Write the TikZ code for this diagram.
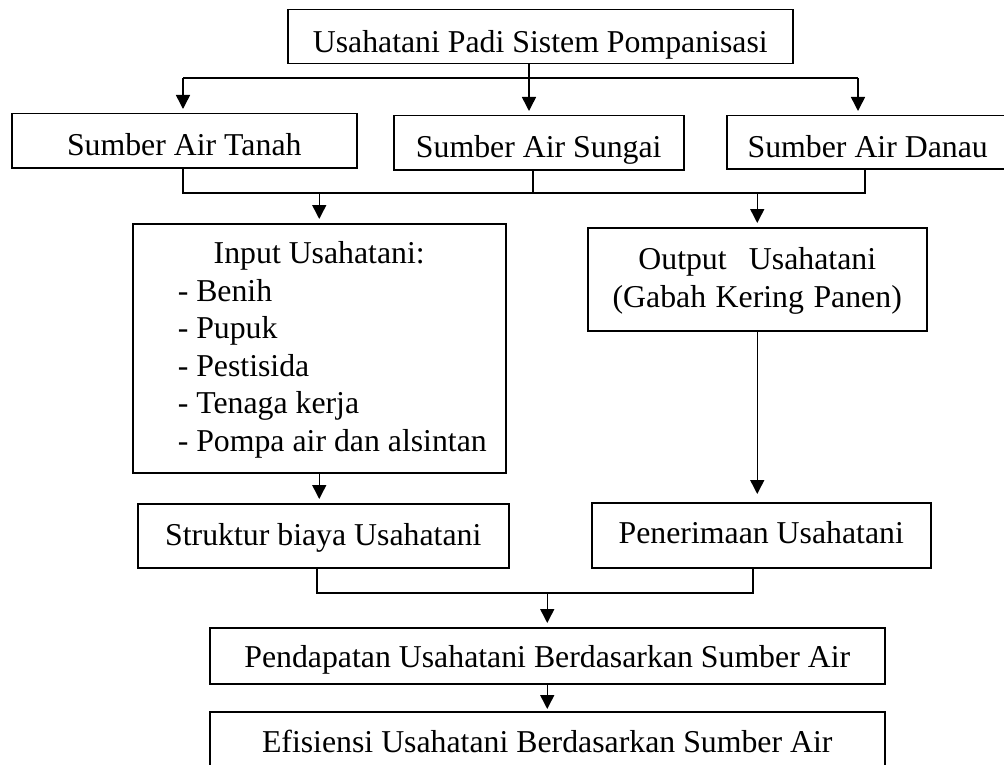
\documentclass[tikz,border=0pt]{standalone}
\usepackage{fontspec}
\setmainfont{Liberation Serif}
\usetikzlibrary{arrows.meta}
\begin{document}
\begin{tikzpicture}[x=1pt,y=-1pt,
  box/.style={draw, line width=1.5pt, inner sep=0pt, anchor=north west,
    font=\fontsize{31.8}{37.5}\selectfont},
  conn/.style={line width=1.5pt},
  arr/.style={line width=1.5pt, -{Triangle[width=14pt,length=14pt]}, shorten >=4pt}]
\useasboundingbox (0,0) rectangle (1004,765);
% boxes
\node[box, minimum width=505pt, text height=43pt, text depth=11pt] (top) at (287,9) {Usahatani Padi Sistem Pompanisasi};
\node[box, minimum width=345pt, text height=42pt, text depth=12pt] (tanah) at (11,113) {Sumber Air Tanah};
\node[box, minimum width=290pt, text height=42pt, text depth=12pt] (sungai) at (393,115) {Sumber Air Sungai};
\node[box, minimum width=282pt, text height=42pt, text depth=11pt] (danau) at (726,115) {Sumber Air Danau};
\node[box, text width=373pt, align=left, text height=40pt, text depth=209pt] (input) at (132,223)
  {\spaceskip=0pt\xspaceskip=0pt
   \makebox[373pt]{Input Usahatani:}\\
   \hspace*{45pt}- Benih\\
   \hspace*{45pt}- Pupuk\\
   \hspace*{45pt}- Pestisida\\
   \hspace*{45pt}- Tenaga kerja\\
   \hspace*{45pt}- Pompa air dan alsintan};
\node[box, text width=339pt, align=center, text height=42pt, text depth=61pt] (output) at (587,227)
  {\spaceskip=0pt\xspaceskip=0pt Output\ \ Usahatani\\(Gabah Kering Panen)};
\node[box, minimum width=371pt, text height=42pt, text depth=22pt] (struktur) at (137,503) {Struktur biaya Usahatani};
\node[box, minimum width=339pt, text height=41pt, text depth=24pt] (terima) at (591,502) {Penerimaan Usahatani};
\node[box, minimum width=675pt, text height=40pt, text depth=16pt] (pendapatan) at (209,627) {Pendapatan Usahatani Berdasarkan Sumber Air};
\node[box, minimum width=675pt, text height=41pt, text depth=15pt] (efisiensi) at (209,711) {Efisiensi Usahatani Berdasarkan Sumber Air};
% junction coordinates
\coordinate (busA) at (183,78);
\coordinate (busB) at (858,78);
\coordinate (xs) at (529,0);
\coordinate (busC) at (183,193);
\coordinate (busD) at (865,193);
\coordinate (xt) at (533,0);
\coordinate (busE) at (317,593);
\coordinate (busF) at (753,593);
% row 1 connectors
\draw[conn] (busA) -- (busB);
\draw[arr] (busA) -- (tanah.north -| busA);
\draw[arr] (busB) -- (danau.north -| busB);
\draw[arr] (top.south -| xs) -- (sungai.north -| xs);
% row 2 connectors
\draw[conn] (tanah.south -| busC) -- (busC) -- (busD) -- (danau.south -| busD);
\draw[conn] (sungai.south -| xt) -- (busC -| xt);
\draw[arr] (busC -| input.north) -- (input.north);
\draw[arr] (busC -| output.north) -- (output.north);
% row 3
\draw[arr] (input.south) -- (struktur.north -| input.south);
\draw[arr, shorten >=8pt] (output.south) -- (terima.north -| output.south);
% row 4
\draw[conn] (struktur.south -| busE) -- (busE) -- (busF) -- (terima.south -| busF);
\draw[arr] (busE -| pendapatan.north) -- (pendapatan.north);
\draw[arr, shorten >=2pt] (pendapatan.south) -- (efisiensi.north);
\end{tikzpicture}
\end{document}
